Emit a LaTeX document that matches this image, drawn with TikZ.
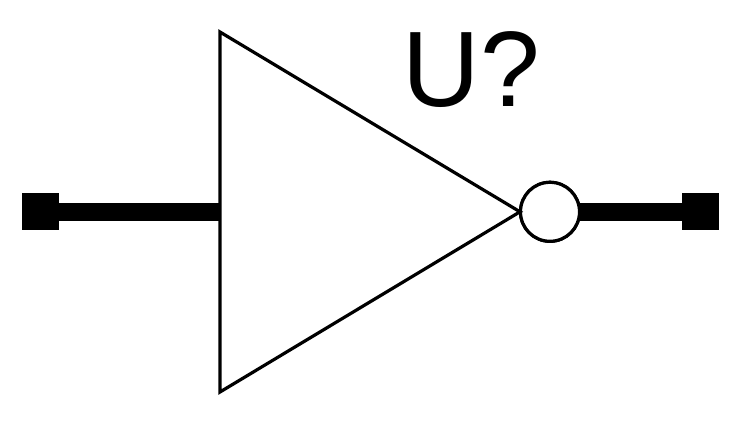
\documentclass[tikz,border=0pt]{standalone}
\usepackage{fontspec}
\setmainfont{Liberation Sans}
\tikzset{
  gate/.style={draw=black,line width=2.4pt,line join=miter,fill=white},
  wire/.style={line width=13.5pt,black},
  pad/.style={fill=black,draw=none,minimum width=27.75pt,minimum height=27.75pt,inner sep=0pt,outer sep=0pt},
  bubble/.style={circle,draw=black,line width=2.4pt,fill=white,minimum size=44.25pt,inner sep=0pt,outer sep=0pt}
}
\begin{document}
\begin{tikzpicture}[x=0.75pt,y=-0.75pt]
\useasboundingbox (0,0) rectangle (741,424);
\node[pad] (padL) at (40.5,211.8) {};
\node[pad] (padR) at (700.5,211.8) {};
\coordinate (inp) at (220,211.8);
\coordinate (tip) at (520,211.8);
\coordinate (top) at (220,32);
\coordinate (bot) at (220,392);
\node[bubble] (bub) at (550,211.8) {};
\draw[wire] (padL.center) -- (inp);
\draw[wire] (bub.center) -- (padR.center);
\node[bubble] at (550,211.8) {};
\draw[gate] (top) -- (tip) -- (bot) -- cycle;
\node[font=\fontsize{80.5}{85}\selectfont,inner sep=0pt] (lbl) at (471.5,69.5) {U?};
\end{tikzpicture}
\end{document}
